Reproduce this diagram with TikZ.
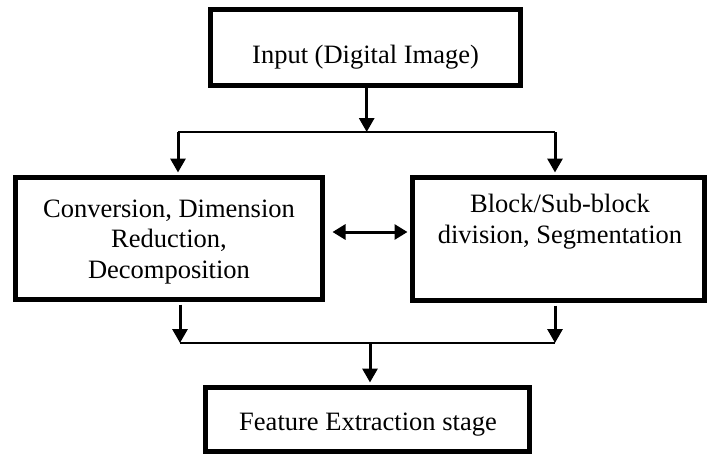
\documentclass[tikz,border=0pt]{standalone}
\usepackage{fontspec}
\setmainfont{Liberation Serif}
\usetikzlibrary{arrows.meta}
\begin{document}
\begin{tikzpicture}[x=1pt,y=-1pt,
  box/.style={draw, line width=5pt, inner sep=0pt},
  txt/.style={font=\fontsize{26.5}{30.5}\selectfont, align=center, inner sep=0pt, anchor=base},
  arr/.style={line width=3pt, -{Triangle[length=14pt,width=15pt]}},
  darr/.style={line width=3pt, {Triangle[length=13pt,width=15pt]}-{Triangle[length=13pt,width=15pt]}},
  ln/.style={line width=2pt}]
\useasboundingbox (0,0) rectangle (710,455);
% boxes
\node[box, minimum width=310pt, minimum height=76pt] (in) at (365.5,47.5) {};
\node[box, minimum width=307pt, minimum height=122pt] (lb) at (169,238.5) {};
\node[box, minimum width=292pt, minimum height=123pt] (rb) at (558.5,239) {};
\node[box, minimum width=324pt, minimum height=64pt] (out) at (367.5,419.5) {};
% texts (base anchor = baseline of the last line)
\node[txt] (inT) at (365.5,63) {Input (Digital Image)};
\node[txt] (lbT) at (169,278) {Conversion, Dimension\\Reduction,\\Decomposition};
\node[txt] (rbT) at (560,243) {Block/Sub-block\\division, Segmentation};
\node[txt] (outT) at (368,430) {Feature Extraction stage};
% connectors
\coordinate (sp) at (366.7,132);
\coordinate (sl) at (178,132);
\coordinate (sr) at (555,132);
\draw[arr] (sp |- in.south) -- (sp);
\draw[ln] (sl) -- (sr);
\draw[arr, shorten >=2.5pt] (sl) -- (sl |- lb.north);
\draw[arr, shorten >=2.5pt] (sr) -- (sr |- rb.north);
\coordinate (dd) at (0,232);
\draw[darr, shorten <=7.5pt, shorten >=2.5pt] (lb.east |- dd) -- (rb.west |- dd);
\coordinate (ml) at (180,343);
\coordinate (mr) at (555,343);
\coordinate (mm) at (370,343);
\draw[arr, shorten <=2.5pt] (ml |- lb.south) -- (ml);
\draw[arr, shorten <=2.5pt] (mr |- rb.south) -- (mr);
\draw[ln] (ml) -- (mr);
\draw[arr, shorten >=2.5pt] (mm) -- (mm |- out.north);
\end{tikzpicture}
\end{document}
